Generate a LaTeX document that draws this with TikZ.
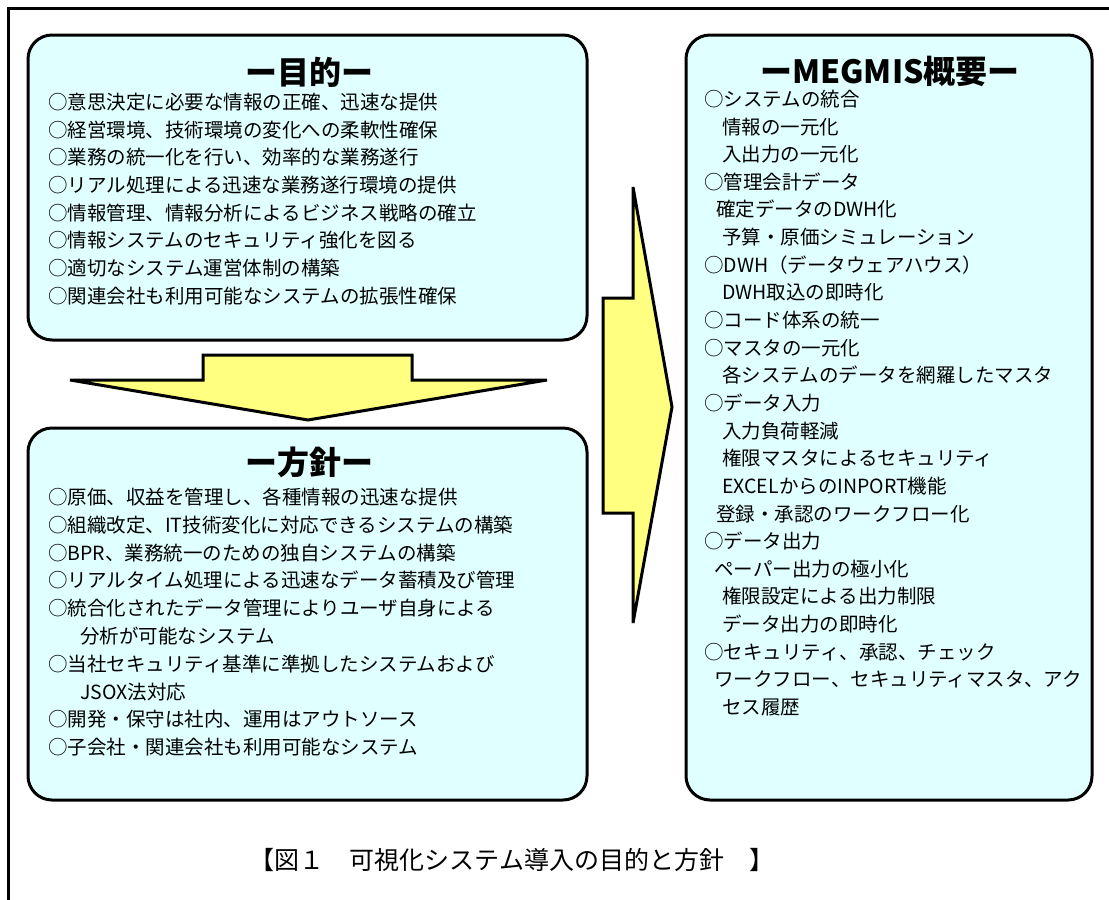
\documentclass[tikz,border=0pt]{standalone}
\usepackage{fontspec}
\setmainfont{Noto Sans CJK JP}
\definecolor{boxcyan}{RGB}{224,255,255}
\definecolor{arrowyellow}{RGB}{255,255,128}
\begin{document}
\begin{tikzpicture}[x=1pt,y=-1pt,
  box/.style={draw=black, line width=3pt, rounded corners=24pt, fill=boxcyan, inner sep=0pt},
  arrowshape/.style={draw=black, line width=3pt, fill=arrowyellow, line join=miter},
  frame/.style={draw=black, line width=3pt},
  boxtitle/.style={font=\bfseries\fontsize{32}{32}\selectfont, inner sep=0pt},
  item/.style={anchor=base west, inner sep=0pt, font=\fontsize{19.5}{19.5}\selectfont},
  captiontext/.style={font=\fontsize{25}{25}\selectfont, inner sep=0pt}]
\useasboundingbox (0,0) rectangle (1109,900);
\fill[white] (0,0) rectangle (1109,900);
% outer frame
\draw[frame] (8,900) -- (8,8) -- (1109,8);
% boxes
\node[box, minimum width=559pt, minimum height=305pt] (purpose) at (307.5,187.5) {};
\node[box, minimum width=559pt, minimum height=372pt] (policy) at (307.5,614) {};
\node[box, minimum width=406pt, minimum height=765pt] (overview) at (889,417.5) {};
% arrows
\draw[arrowshape] (70,380) -- (203,380) -- (203,355) -- (412,355) -- (412,380) -- (547,380) -- (308,420) -- cycle;
\draw[arrowshape] (633,187) -- (672,407) -- (633,623) -- (633,513) -- (603,513) -- (603,298) -- (633,298) -- cycle;
% titles
\node[boxtitle] (t1) at (309,72) {ー目的ー};
\node[boxtitle] (t2) at (309,462) {ー方針ー};
\node[boxtitle] (t3) at (890,71) {ーMEGMIS概要ー};
% purpose items
\foreach \t [count=\i] in {
  ○意思決定に必要な情報の正確、迅速な提供,
  ○経営環境、技術環境の変化への柔軟性確保,
  ○業務の統一化を行い、効率的な業務遂行,
  ○リアル処理による迅速な業務遂行環境の提供,
  ○情報管理、情報分析によるビジネス戦略の確立,
  ○情報システムのセキュリティ強化を図る,
  ○適切なシステム運営体制の構築,
  ○関連会社も利用可能なシステムの拡張性確保}
  \node[item] (pa\i) at (48,{102+7.4+(\i-1)*27.7}) {\t};
% policy items
\foreach \x/\t [count=\i] in {
  48/○原価、収益を管理し、各種情報の迅速な提供,
  48/○組織改定、IT技術変化に対応できるシステムの構築,
  48/○BPR、業務統一のための独自システムの構築,
  48/○リアルタイム処理による迅速なデータ蓄積及び管理,
  48/○統合化されたデータ管理によりユーザ自身による,
  80/分析が可能なシステム,
  48/○当社セキュリティ基準に準拠したシステムおよび,
  80/JSOX法対応,
  48/○開発・保守は社内、運用はアウトソース,
  48/○子会社・関連会社も利用可能なシステム}
  \node[item] (po\i) at (\x,{497+7.4+(\i-1)*27.8}) {\t};
% overview items
\foreach \x/\t [count=\i] in {
  704/○システムの統合,
  722/情報の一元化,
  722/入出力の一元化,
  704/○管理会計データ,
  716/確定データのDWH化,
  722/予算・原価シミュレーション,
  704/○DWH（データウェアハウス）,
  722/DWH取込の即時化,
  704/○コード体系の統一,
  704/○マスタの一元化,
  722/各システムのデータを網羅したマスタ,
  704/○データ入力,
  722/入力負荷軽減,
  722/権限マスタによるセキュリティ,
  722/EXCELからのINPORT機能,
  716/登録・承認のワークフロー化,
  704/○データ出力,
  714/ペーパー出力の極小化,
  722/権限設定による出力制限,
  722/データ出力の即時化,
  704/○セキュリティ、承認、チェック,
  714/ワークフロー、セキュリティマスタ、アク,
  722/セス履歴}
  \node[item] (ov\i) at (\x,{99+7.4+(\i-1)*27.64}) {\t};
% caption
\node[captiontext] (cap) at (512,860) {【図１　可視化システム導入の目的と方針　】};
\end{tikzpicture}
\end{document}
